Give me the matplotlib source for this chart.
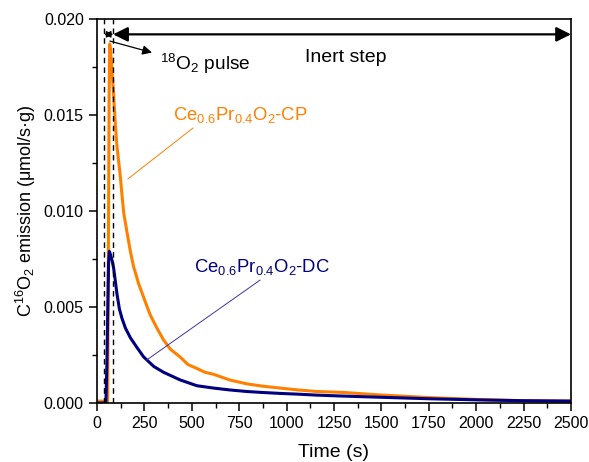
import matplotlib.pyplot as plt
import numpy as np

plt.rcParams['font.family'] = ['Liberation Sans', 'DejaVu Sans']
plt.rcParams['mathtext.default'] = 'regular'

# C16O2 emission (time in s, umol/s.g)
t_cp = [0, 30, 50, 56, 60, 64, 67, 72, 80, 88, 96, 105, 114, 123, 132, 141,
        158, 176, 193, 220, 246, 280, 316, 350, 387, 438, 480, 527, 570, 613,
        700, 789, 870, 965, 1060, 1159, 1300, 1493, 1756, 2020, 2250, 2500]
v_cp = [0.0001, 0.0001, 0.0001, 0.0001, 0.008, 0.016, 0.0187, 0.0183, 0.0172,
        0.0160, 0.0146, 0.0134, 0.0126, 0.0118, 0.0108, 0.0099, 0.0089, 0.0079,
        0.0071, 0.0062, 0.0055, 0.0046, 0.0039, 0.0033, 0.0028, 0.0024, 0.0020,
        0.0018, 0.0016, 0.0015, 0.0012, 0.0010, 0.00088, 0.00078, 0.00068,
        0.0006, 0.00055, 0.00042, 0.00028, 0.00018, 0.00012, 0.0001]

t_dc = [0, 40, 47, 52, 57, 61, 65, 72, 80, 88, 96, 105, 118, 132, 150, 176,
        210, 246, 300, 351, 439, 527, 613, 700, 789, 870, 965, 1060, 1159,
        1300, 1493, 1756, 2020, 2250, 2500]
v_dc = [0, 0, 0, 0.002, 0.005, 0.0073, 0.0079, 0.0077, 0.0074, 0.0070, 0.0064,
        0.0057, 0.0049, 0.0044, 0.0039, 0.0034, 0.0029, 0.0024, 0.0019, 0.0016,
        0.0012, 0.0009, 0.00078, 0.00068, 0.0006, 0.00055, 0.0005, 0.00046,
        0.00041, 0.00036, 0.0003, 0.00022, 0.00016, 0.00012, 0.0001]

pulse_start, pulse_end = 38, 85

orange = '#FF8000'
navy = '#000080'

fig = plt.figure(figsize=(5.89, 4.62), dpi=100)
ax = fig.add_axes([0.1647, 0.1277, 0.8047, 0.8312])

ax.plot(t_cp, v_cp, color=orange, lw=2.2)
ax.plot(t_dc, v_dc, color=navy, lw=2.2)

# pulse window
for x in (pulse_start, pulse_end):
    ax.axvline(x, color='black', ls='--', lw=1.0, dashes=(4, 3))

ax.annotate('', xy=(pulse_start, 0.0192), xytext=(pulse_end, 0.0192),
            arrowprops=dict(arrowstyle='<|-|>,head_length=0.5,head_width=0.25',
                            color='black', lw=0.8, mutation_scale=8,
                            shrinkA=0, shrinkB=0))
ax.annotate('', xy=(2500, 0.0192), xytext=(pulse_end, 0.0192),
            arrowprops=dict(arrowstyle='<|-|>', color='black', lw=1.6,
                            mutation_scale=22, shrinkA=0, shrinkB=0))
ax.annotate('', xy=(290, 0.01825), xytext=(68, 0.01885),
            arrowprops=dict(arrowstyle='-|>', color='black', lw=0.9,
                            mutation_scale=14, shrinkA=0, shrinkB=0))
ax.text(330, 0.01734, r'$^{18}$O$_2$ pulse', fontsize=13.8, ha='left', va='baseline')
ax.text(1097, 0.01776, 'Inert step', fontsize=14, ha='left', va='baseline')

# sample labels with leader lines
ax.text(399, 0.01474, r'Ce$_{0.6}$Pr$_{0.4}$O$_2$-CP', color=orange,
        fontsize=13.3, ha='left', va='baseline')
ax.plot([163, 506], [0.01167, 0.01432], color=orange, lw=0.7)
ax.text(513, 0.00684, r'Ce$_{0.6}$Pr$_{0.4}$O$_2$-DC', color=navy,
        fontsize=13.3, ha='left', va='baseline')
ax.plot([262, 860], [0.00224, 0.0064], color='#3838a8', lw=0.7)

ax.set_xlim(0, 2500)
ax.set_ylim(0, 0.020)
ax.set_xticks(np.arange(0, 2501, 250))
ax.set_xticks(np.arange(125, 2500, 250), minor=True)
ax.set_yticks([0, 0.005, 0.010, 0.015, 0.020])
ax.set_yticklabels(['0.000', '0.005', '0.010', '0.015', '0.020'])
ax.set_yticks(np.arange(0.0025, 0.02, 0.005), minor=True)
ax.tick_params(which='major', direction='out', length=6, width=1.1, labelsize=11.5)
ax.tick_params(which='minor', direction='out', length=3.5, width=1.0)

ax.set_xlabel('Time (s)', fontsize=14, labelpad=9)
ax.set_ylabel(r'C$^{16}$O$_2$ emission (μmol/s·g)', fontsize=13)

for s in ax.spines.values():
    s.set_linewidth(1.2)

fig.savefig('out.png', dpi=100)
